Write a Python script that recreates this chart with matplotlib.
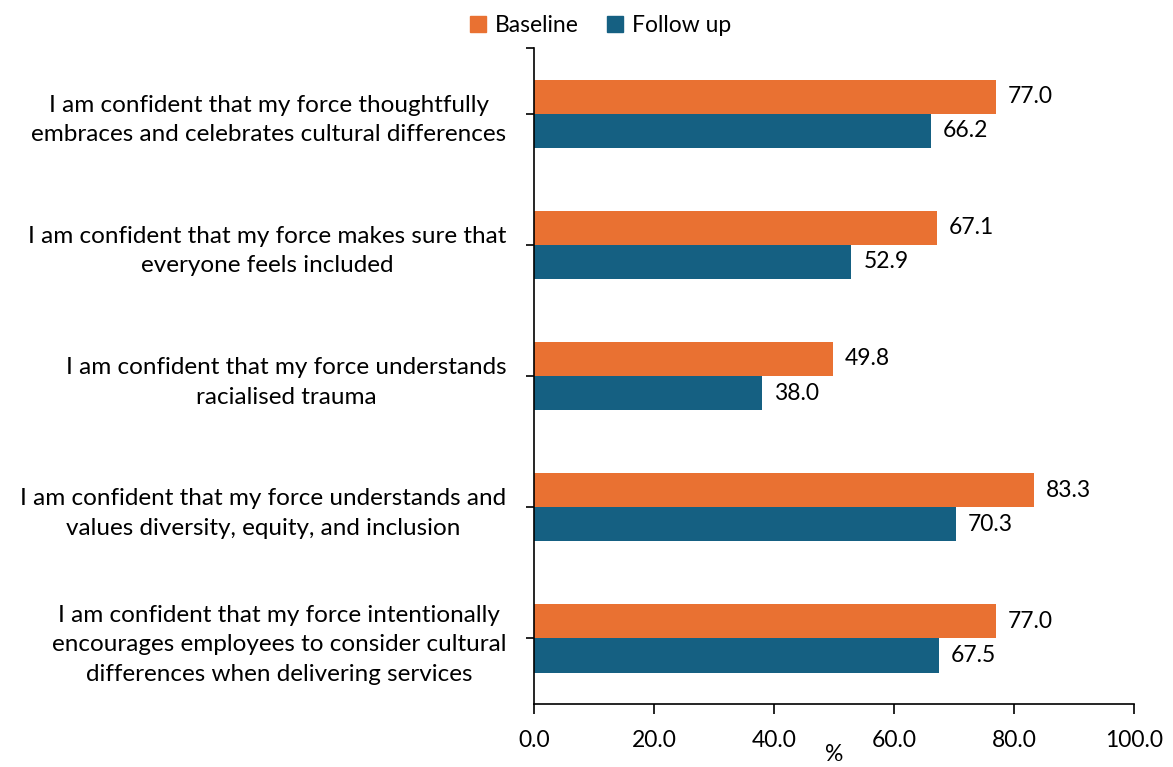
import matplotlib
matplotlib.use("Agg")
import matplotlib.pyplot as plt
import numpy as np
from matplotlib.patches import Patch

plt.rcParams['font.family'] = ['Lato', 'DejaVu Sans']

categories = [
    "I am confident that my force thoughtfully\nembraces and celebrates cultural differences",
    "I am confident that my force makes sure that\neveryone feels included",
    "I am confident that my force understands\nracialised trauma",
    "I am confident that my force understands and\nvalues diversity, equity, and inclusion",
    "I am confident that my force intentionally\nencourages employees to consider cultural\ndifferences when delivering services",
]
baseline = [77.0, 67.1, 49.8, 83.3, 77.0]
follow_up = [66.2, 52.9, 38.0, 70.3, 67.5]
xticks = [0, 20, 40, 60, 80, 100]

c_base = "#E97132"
c_fu = "#156082"

fig = plt.figure(figsize=(11.73, 7.67), dpi=100)
ax = fig.add_axes([0.4552, 0.0821, 0.5116, 0.8553])

n = len(categories)
y = np.arange(n)
h = 0.26
ax.barh(y - h / 2, baseline, height=h, color=c_base)
ax.barh(y + h / 2, follow_up, height=h, color=c_fu)

fs = 16.5
fs_cat = 17.5
for i in range(n):
    ax.text(baseline[i] + 2.0, y[i] - h / 2, f"{baseline[i]:.1f}", va="center", ha="left", fontsize=fs)
    ax.text(follow_up[i] + 2.0, y[i] + h / 2, f"{follow_up[i]:.1f}", va="center", ha="left", fontsize=fs)

ax.set_ylim(n - 0.5, -0.5)
ax.set_xlim(0, 100)
ax.set_xticks(xticks)
ax.set_xticklabels([f"{v:.1f}" for v in xticks], fontsize=fs)
ax.set_yticks(list(y) + [-0.5])
ax.set_yticklabels(categories + [""], fontsize=fs_cat, linespacing=1.5)
ax.tick_params(axis="y", length=6, width=1.2, pad=14)
ax.tick_params(axis="x", length=7, width=1.2, pad=12, direction="out")
for lab in ax.get_yticklabels():
    lab.set_horizontalalignment("right")
    lab.set_multialignment("center")

for s in ["top", "right"]:
    ax.spines[s].set_visible(False)
for s in ["left", "bottom"]:
    ax.spines[s].set_linewidth(1.2)

ax.set_xlabel("%", fontsize=fs, labelpad=-5)

handles = [Patch(color=c_base, label="Baseline"), Patch(color=c_fu, label="Follow up")]
fig.legend(handles=handles, loc="center", bbox_to_anchor=(0.512, 0.967), ncol=2, frameon=False,
           fontsize=fs, handlelength=0.7, handleheight=0.7, handletextpad=0.4, columnspacing=1.2)

fig.savefig("out.png", dpi=100)
